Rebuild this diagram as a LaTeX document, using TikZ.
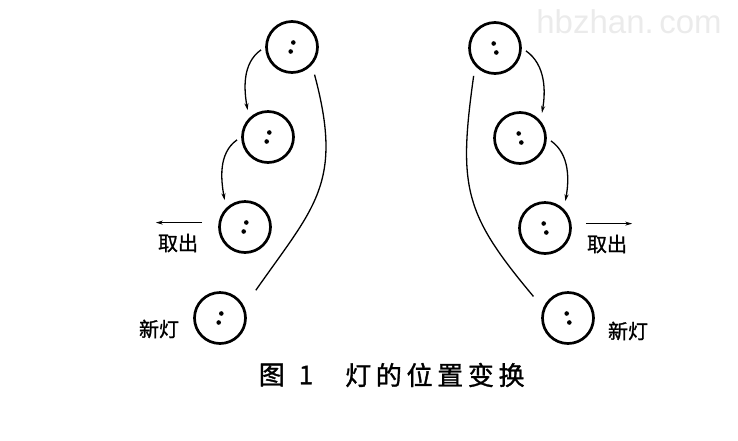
\documentclass[tikz,border=0pt]{standalone}
\usepackage{fontspec}
\newfontfamily\cjk[FakeBold=1.2]{Noto Sans CJK SC}
\newfontfamily\wmfont{Liberation Sans}
\usepackage{tikz}
\usetikzlibrary{arrows.meta}
\tikzset{
	lamp/.style={circle, draw, line width=2.7pt, minimum size=51pt, inner sep=0pt},
	move/.style={line width=1.3pt, -{Stealth[length=7pt,width=4pt]}},
	path/.style={line width=1.3pt},
	word/.style={inner sep=0pt, font=\cjk\fontsize{20}{20}\selectfont}
}

\begin{document}
\begin{tikzpicture}[x=1pt,y=1pt]
	\useasboundingbox (0,0) rectangle (738,-440);
	% watermark
	\node[text=black!8, font=\wmfont\fontsize{33}{33}\selectfont, inner sep=0pt] (mark) at (629,-22) {hbzhan.\,com};
	% left: lamps
	\node[lamp] (a1) at (292,-47) {};
	\node[lamp] (a2) at (268,-137) {};
	\node[lamp] (a3) at (245,-227) {};
	\node[lamp] (a4) at (220,-318) {};
	% right: lamps
	\node[lamp] (b1) at (495,-48) {};
	\node[lamp] (b2) at (520,-138) {};
	\node[lamp] (b3) at (545,-228) {};
	\node[lamp] (b4) at (568,-318) {};
	\foreach \n in {a1,a2,a3,a4}{
		\fill ([shift={(1.3,4.5)}]\n.center) circle (2.3);
		\fill ([shift={(-1.3,-4.5)}]\n.center) circle (2.3);
	}
	\foreach \n in {b1,b2,b3,b4}{
		\fill ([shift={(-1.3,4.5)}]\n.center) circle (2.3);
		\fill ([shift={(1.3,-4.5)}]\n.center) circle (2.3);
	}
	% left: moves
	\draw[move, shorten <=5pt, shorten >=8pt] (a1.180) to[out=215,in=100] (a2.135);
	\draw[move, shorten <=5pt, shorten >=8pt] (a2.180) to[out=215,in=100] (a3.135);
	\draw[path, shorten <=10pt, shorten >=20pt] (a1.-42) to[out=-75,in=55,looseness=1.25] (a4.25);
	% right: moves
	\draw[move, shorten <=5pt, shorten >=8pt] (b1.0) to[out=-35,in=80] (b2.40);
	\draw[move, shorten <=5pt, shorten >=8pt] (b2.0) to[out=-35,in=80] (b3.45);
	\draw[path, shorten <=10pt, shorten >=15pt] (b1.222) to[out=-98,in=130,looseness=1.25] (b4.158);
	% labels
	\node[word] (takeL) at (178,-243) {取出};
	\node[word] (newL) at (159,-329) {新灯};
	\node[word] (takeR) at (607,-244) {取出};
	\node[word] (newR) at (628,-331) {新灯};
	\draw[move] ([shift={(4,11)}]takeL.north east) -- ([shift={(-2,11)}]takeL.north west);
	\draw[move] ([shift={(-1,11)}]takeR.north west) -- ([shift={(5,11)}]takeR.north east);
	% caption
	\node[inner sep=0pt, font=\cjk\fontsize{26}{26}\selectfont] (fig) at (286,-375) {图\hspace{14pt}1};
	\node[inner sep=0pt, font=\cjk\fontsize{26}{26}\selectfont, anchor=west] (title) at (345,-375) {\addfontfeature{LetterSpace=18}灯的位置变换};
\end{tikzpicture}
\end{document}
